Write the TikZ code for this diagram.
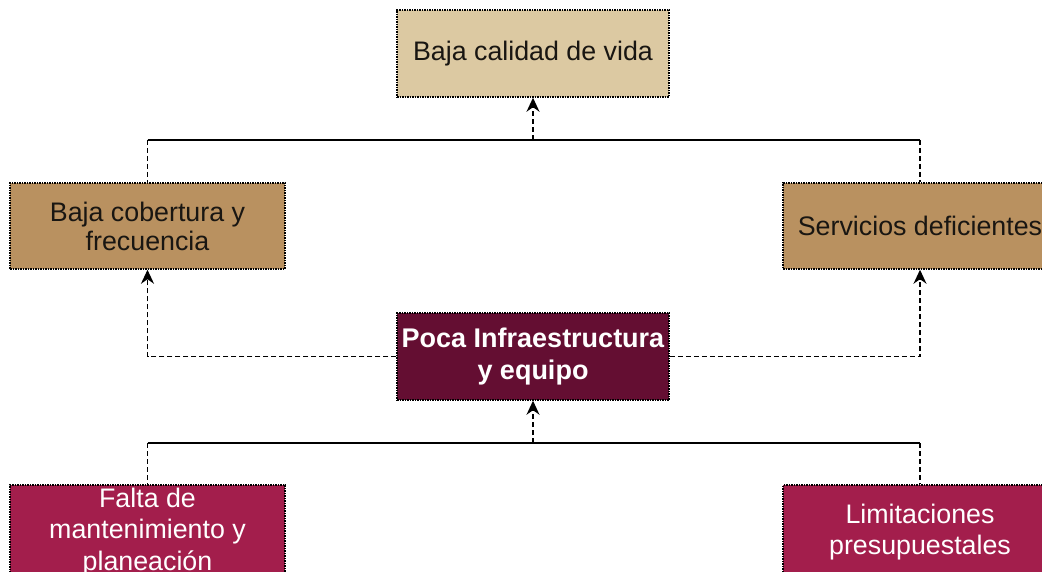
\documentclass[tikz,border=0pt]{standalone}
\usepackage{fontspec}
\setmainfont{Liberation Sans}
\usetikzlibrary{arrows.meta}
\definecolor{tanbox}{RGB}{220,201,162}
\definecolor{brownbox}{RGB}{185,145,96}
\definecolor{maroonbox}{RGB}{100,14,50}
\definecolor{crimsonbox}{RGB}{163,30,76}
\definecolor{darktext}{RGB}{25,22,18}
\tikzset{
  box/.style={draw=black, line width=1.5pt, densely dotted, align=center,
    inner sep=0pt, font=\fontsize{26.8}{29}\selectfont, text=darktext},
  lightbox/.style={box, fill=tanbox},
  brbox/.style={box, fill=brownbox},
  darkbox/.style={box, fill=maroonbox, text=white, font=\fontsize{27}{32}\selectfont\bfseries},
  redbox/.style={box, fill=crimsonbox, text=white, font=\fontsize{26.8}{31.5}\selectfont},
  conn/.style={line width=1.6pt, dash pattern=on 5pt off 3pt},
  solidline/.style={line width=1.6pt},
  tip/.style={-{Stealth[length=14pt,width=13pt]}}
}
\begin{document}
\begin{tikzpicture}[x=1pt,y=-1pt]
\useasboundingbox (0,0) rectangle (1042,572);
\clip (0,0) rectangle (1042,572);
\fill[white] (0,0) rectangle (1042,572);

\node[lightbox, minimum width=272pt, minimum height=87pt] (top) at (533,53.5) {Baja calidad de vida};
\node[brbox, minimum width=275pt, minimum height=86pt] (cob) at (147.5,226) {Baja cobertura y\\frecuencia};
\node[brbox, minimum width=274pt, minimum height=86pt] (serv) at (920,226) {Servicios deficientes};
\node[darkbox, minimum width=272pt, minimum height=87pt] (poca) at (533,356.5) {Poca Infraestructura\\y equipo};
\node[redbox, minimum width=275pt, minimum height=94pt] (falta) at (147.5,532) {Falta de\\mantenimiento y\\planeación};
\node[redbox, minimum width=274pt, minimum height=94pt] (lim) at (920,532) {Limitaciones\\presupuestales};

\coordinate (t1) at (147.5,140);
\coordinate (t2) at (920,140);
\coordinate (tm) at (533,140);
\coordinate (b1) at (147.5,443);
\coordinate (b2) at (920,443);
\coordinate (bm) at (533,443);

% upper level
\draw[solidline] (t1) -- (t2);
\draw[conn] (t1) -- (cob.north);
\draw[conn] (t2) -- (serv.north);
\draw[conn, tip] (tm) -- (top.south);

% middle level
\draw[conn, tip] (poca.west) -| (cob.south);
\draw[conn, tip] (poca.east) -| (serv.south);

% lower level
\draw[solidline] (b1) -- (b2);
\draw[conn] (b1) -- (falta.north);
\draw[conn] (b2) -- (lim.north);
\draw[conn, tip] (bm) -- (poca.south);
\end{tikzpicture}
\end{document}
